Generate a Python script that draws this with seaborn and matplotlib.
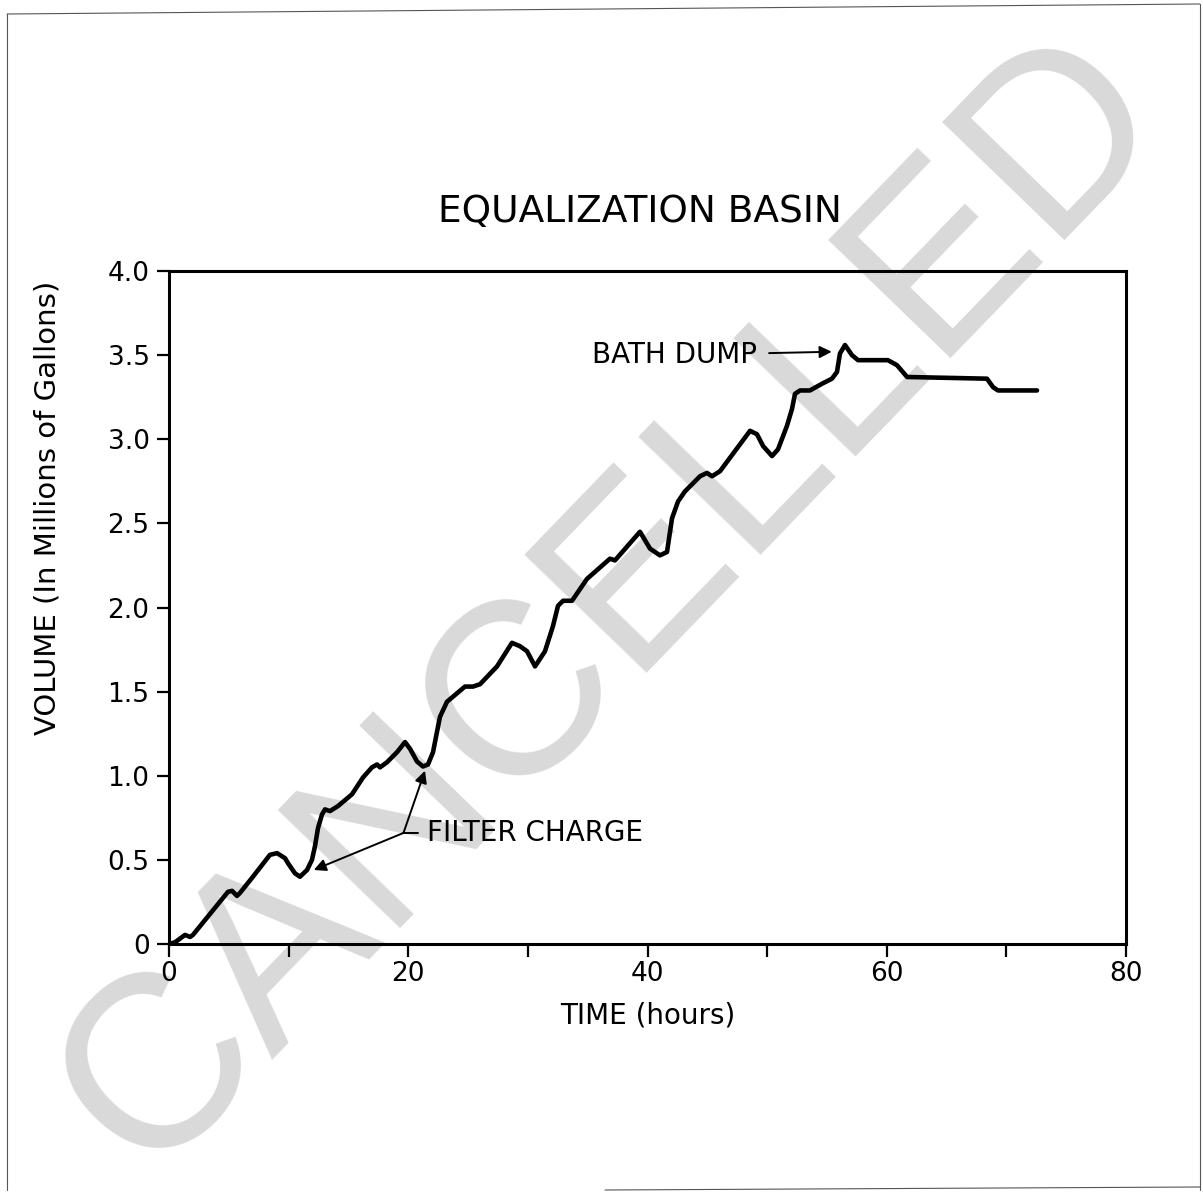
import matplotlib
matplotlib.use("Agg")
import matplotlib.pyplot as plt
from matplotlib.lines import Line2D
import seaborn as sns
import pandas as pd

# time (hours) and basin volume (millions of gallons)
hours = [0.0, 0.5, 1.34, 1.76, 2.0, 4.93, 5.27, 5.68, 5.94, 6.94, 8.44, 9.03, 9.7, 9.95,
         10.53, 10.95, 11.54, 11.95, 12.2, 12.46, 12.79, 13.04, 13.46, 14.13, 15.3, 16.22,
         16.97, 17.39, 17.64, 18.22, 19.06, 19.73, 20.15, 20.73, 21.23, 21.65, 22.07, 22.4,
         22.65, 23.24, 23.74, 24.74, 25.41, 26.0, 27.42, 28.67, 29.34, 29.93, 30.6, 31.43,
         32.1, 32.52, 32.94, 33.69, 34.94, 36.86, 37.28, 39.37, 40.21, 41.04, 41.63, 42.05,
         42.55, 43.13, 44.39, 44.97, 45.39, 46.06, 48.57, 49.15, 49.66, 50.41, 50.91, 51.66,
         52.08, 52.33, 52.75, 53.58, 54.59, 55.42, 55.84, 56.09, 56.51, 57.09, 57.6, 60.1,
         60.86, 61.7, 68.38, 68.88, 69.3, 72.56]
volume = [0.0, 0.01, 0.054, 0.042, 0.054, 0.31, 0.316, 0.286, 0.304, 0.393, 0.53, 0.54, 0.51, 0.48,
          0.42, 0.40, 0.44, 0.50, 0.58, 0.69, 0.77, 0.80, 0.79, 0.82, 0.89, 0.99,
          1.05, 1.067, 1.05, 1.08, 1.14, 1.20, 1.16, 1.085, 1.055, 1.067, 1.14, 1.26,
          1.35, 1.44, 1.47, 1.53, 1.53, 1.544, 1.65, 1.79, 1.77, 1.74, 1.65, 1.74,
          1.89, 2.01, 2.04, 2.04, 2.17, 2.29, 2.28, 2.45, 2.35, 2.31, 2.33, 2.53,
          2.63, 2.69, 2.78, 2.80, 2.78, 2.81, 3.05, 3.03, 2.96, 2.90, 2.94, 3.08,
          3.18, 3.27, 3.29, 3.29, 3.33, 3.36, 3.40, 3.51, 3.56, 3.50, 3.47, 3.47,
          3.44, 3.37, 3.36, 3.31, 3.29, 3.29]

x_ticks = [0, 20, 40, 60, 80]
x_minor = [10, 30, 50, 70]
y_ticks = [0, 0.5, 1.0, 1.5, 2.0, 2.5, 3.0, 3.5, 4.0]
y_labels = ["0", "0.5", "1.0", "1.5", "2.0", "2.5", "3.0", "3.5", "4.0"]

df = pd.DataFrame({"hours": hours, "volume": volume})

sns.set_theme(style="ticks")
plt.rcParams["font.family"] = ["DejaVu Sans"]
plt.rcParams["text.color"] = "black"
plt.rcParams["axes.labelcolor"] = "black"

fig = plt.figure(figsize=(12.03, 11.92), dpi=100)
ax = fig.add_axes([169 / 1203, 1 - 944 / 1192, (1126 - 169) / 1203, (944 - 271) / 1192])
ax.set_facecolor("none")

# watermark behind everything
fig.text(0.509, 0.494, "CANCELLED", fontsize=177, family="Liberation Sans",
         color="#d9d9d9", rotation=46, ha="center", va="center", zorder=-5)

# scanned page border
for (xs, ys) in [([7, 1200], [14, 4]), ([7, 7], [14, 1190]), ([1200, 1200], [4, 1190]),
                 ([605, 1200], [1190, 1187])]:
    fig.add_artist(Line2D([x / 1203 for x in xs], [1 - y / 1192 for y in ys],
                          color="#555555", lw=0.8))

sns.lineplot(data=df, x="hours", y="volume", ax=ax, color="black", lw=3.3,
             solid_joinstyle="round", solid_capstyle="round")

ax.set_xlim(0, 80)
ax.set_ylim(0, 4.0)
ax.set_xticks(x_ticks)
ax.set_xticks(x_minor, minor=True)
ax.set_yticks(y_ticks)
ax.set_yticklabels(y_labels)
for s in ax.spines.values():
    s.set_linewidth(2.2)
    s.set_color("black")
ax.tick_params(axis="both", which="both", direction="out", length=9, width=1.6,
               colors="black", labelsize=19)
ax.tick_params(axis="x", pad=3)
ax.tick_params(axis="y", pad=5)

ax.set_xlabel("TIME (hours)", fontsize=20, labelpad=11)
ax.set_ylabel("VOLUME (In Millions of Gallons)", fontsize=21)
ax.yaxis.set_label_coords(-0.112, 0.648)

fig.text(640 / 1203, 1 - 212 / 1192, "EQUALIZATION BASIN", fontsize=27,
         ha="center", va="center")

# annotations
ax.annotate("BATH DUMP", xy=(55.4, 3.52), xytext=(35.4, 3.50), fontsize=20,
            va="center", ha="left",
            arrowprops=dict(arrowstyle="-|>", color="black", lw=1.4,
                            shrinkA=6, shrinkB=0, mutation_scale=18))
ax.text(21.6, 0.66, "FILTER CHARGE", fontsize=20, va="center", ha="left")
ax.plot([19.6, 20.8], [0.66, 0.66], color="black", lw=1.4)
for tip in [(12.1, 0.44), (21.4, 1.03)]:
    ax.annotate("", xy=tip, xytext=(19.6, 0.66),
                arrowprops=dict(arrowstyle="-|>", color="black", lw=1.4,
                                shrinkA=0, shrinkB=0, mutation_scale=18))

fig.savefig("out.png", dpi=100)
